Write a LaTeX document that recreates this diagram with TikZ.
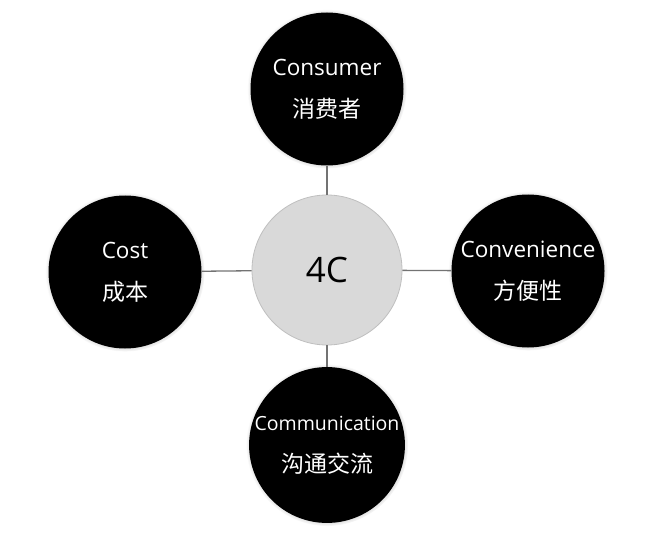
\documentclass[tikz,border=0pt]{standalone}
\usepackage{fontspec}
\setmainfont{Open Sans}
\newfontfamily\cjk{Noto Sans CJK SC}
\usetikzlibrary{shadows}

\newcommand{\zh}{\cjk\fontsize{23}{40}\selectfont}

\begin{document}
\begin{tikzpicture}[
    x=1pt, y=-1pt,
    ball/.style={circle, fill=black, minimum size=153pt, inner sep=0pt,
      text=white, align=center, font=\fontsize{22.5}{40}\selectfont,
      circular glow={fill=black!70, shadow scale=1.04, opacity=0.5}},
    hub/.style={circle, fill=black!15, draw=black!25, line width=0.8pt,
      minimum size=150pt, inner sep=0pt, font=\fontsize{35}{40}\selectfont},
    link/.style={draw=black!55, line width=1.3pt}
]
  \useasboundingbox (0,0) rectangle (650,540);

  % --- CENTER ---
  \node[hub] (hub) at (327,270) {4C};

  % --- OUTER CIRCLES ---
  \node[ball] (consumer) at (327,89) {Consumer\\[2pt]\zh 消费者};
  \node[ball] (cost) at (125,272) {Cost\\[2pt]\zh 成本};
  \node[ball] (conv) at (528,271) {Convenience\\[2pt]\zh 方便性};
  \node[ball] (comm) at (327,445)
    {{\fontsize{19.5}{40}\selectfont Communication}\\[2pt]\zh 沟通交流};

  % --- CONNECTORS ---
  \draw[link] (hub) -- (consumer);
  \draw[link] (hub) -- (cost);
  \draw[link] (hub) -- (conv);
  \draw[link] (hub) -- (comm);

\end{tikzpicture}
\end{document}
